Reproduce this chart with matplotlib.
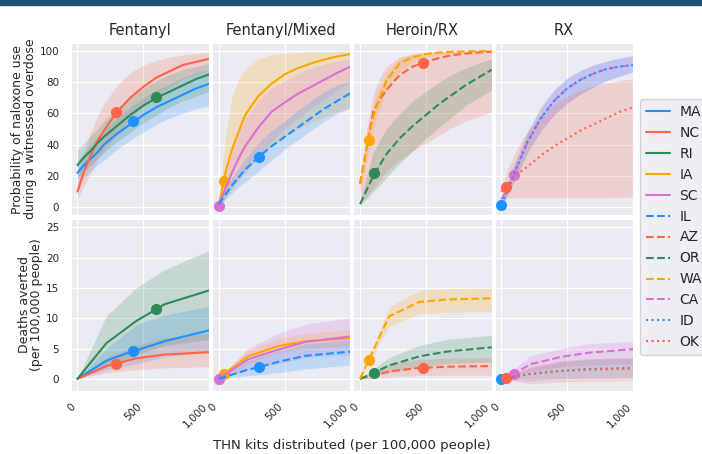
import numpy as np
import matplotlib.pyplot as plt
import seaborn as sns
from matplotlib.lines import Line2D
from matplotlib.patches import Rectangle
from matplotlib.ticker import FuncFormatter

sns.set_style("darkgrid")
plt.rcParams['font.family'] = ['DejaVu Sans']

# ---- data ----
PANELS = ["Fentanyl", "Fentanyl/Mixed", "Heroin/RX", "RX"]
STATES = ["MA", "NC", "RI", "IA", "SC", "IL", "AZ", "OR", "WA", "CA", "ID", "OK"]
PANEL_OF = {"MA": 0, "NC": 0, "RI": 0, "IA": 1, "SC": 1, "IL": 1,
            "AZ": 2, "OR": 2, "WA": 2, "CA": 3, "ID": 3, "OK": 3}
COLORS = {"MA": "dodgerblue", "NC": "tomato", "RI": "seagreen", "IA": "orange", "SC": "orchid",
          "IL": "dodgerblue", "AZ": "tomato", "OR": "seagreen", "WA": "orange", "CA": "orchid",
          "ID": "dodgerblue", "OK": "tomato"}
STYLES = {"MA": "-", "NC": "-", "RI": "-", "IA": "-", "SC": "-",
          "IL": "--", "AZ": "--", "OR": "--", "WA": "--", "CA": "--",
          "ID": ":", "OK": ":"}

# top row: probability of naloxone use
TOP_X = [0, 50, 100, 150, 200, 300, 400, 500, 600, 700, 800, 900, 1000]
prob_mid = {
    "MA": [22, 27, 31, 35, 40, 47, 53, 59, 64, 68, 72, 76, 79],
    "NC": [10, 23, 33, 42, 49, 61, 70, 77, 83, 87, 91, 93, 95],
    "RI": [27, 32, 36, 41, 45, 52, 59, 65, 70, 74, 78, 82, 85],
    "IA": [1, 22, 37, 48, 59, 71, 79, 85, 89, 92, 94.5, 96.5, 98],
    "SC": [1, 12, 22, 31, 39, 51, 61, 67, 72.5, 77, 81.5, 86, 90],
    "IL": [2, 8, 14, 19, 24, 32, 39, 45, 51, 57, 63, 68, 73],
    "AZ": [15, 38, 61, 69, 75, 84.5, 90, 93, 95.5, 97.3, 98.3, 99, 99.5],
    "OR": [2, 11, 20, 27, 34, 44, 52, 59, 66, 72, 78, 83, 88],
    "WA": [15, 38, 58, 70, 81, 92, 96, 98, 99, 99.5, 99.7, 99.9, 100],
    "CA": [5, 12, 22, 32, 42, 57, 68, 76, 81.5, 85.5, 88.5, 90, 91],
    "ID": [2, 11, 22, 32, 42, 57, 68, 76, 81.5, 85.5, 88.5, 90, 91],
    "OK": [10, 15, 19, 23, 26, 33, 39, 44, 49, 53, 57, 61, 64],
}
prob_lo = {
    "MA": [15, 19, 23, 27, 30, 37, 43, 48, 53, 57, 60, 63, 65],
    "NC": [5, 14, 22, 30, 36, 47, 57, 65, 72, 77, 82, 85, 88],
    "RI": [19, 23, 27, 31, 35, 42, 48, 54, 59, 64, 68, 71, 74],
    "IA": [0, 6, 12, 17, 22, 31, 39, 45, 50, 54, 58, 61, 63],
    "SC": [0, 6, 12, 18, 24, 33, 42, 50, 57, 63, 69, 75, 80],
    "IL": [0, 5, 9, 13, 16, 23, 30, 37, 43, 49, 55, 60, 64],
    "AZ": [2, 7, 12, 17, 23, 30, 36, 41, 46, 51, 55, 58, 61],
    "OR": [1, 5, 10, 14, 19, 28, 36, 44, 51, 58, 65, 70, 75],
    "WA": [10, 30, 50, 63, 74, 87, 93, 96, 97.5, 98.5, 99, 99.3, 99.5],
    "CA": [0, 8, 17, 26, 35, 49, 59, 66.5, 72.5, 77, 81, 84, 86.5],
    "ID": [0, 8, 17, 26, 35, 49, 59, 66.5, 72.5, 77, 81, 84, 86.5],
    "OK": [6, 6, 6, 6, 6, 6, 6, 6, 6.1, 6.2, 6.2, 6.3, 6.4],
}
prob_hi = {
    "MA": [30, 35, 40, 45, 49, 57, 64, 70, 75, 79, 83, 86, 88],
    "NC": [18, 35, 48, 58, 66, 78, 86, 91, 94, 96, 97.5, 98.5, 99],
    "RI": [37, 41, 46, 50, 55, 63, 70, 76, 81, 85, 88, 90, 92],
    "IA": [2, 45, 70, 82, 88, 95, 97.5, 98.5, 99, 99.5, 99.7, 99.9, 100],
    "SC": [2, 20, 35, 47, 57, 68, 76, 81, 85.5, 89, 91.5, 93.5, 95],
    "IL": [4, 12, 19, 25, 31, 41, 49, 55, 62, 68, 74, 78, 81],
    "AZ": [15, 50, 72, 83, 90, 96, 98, 99, 99.5, 99.7, 99.8, 99.9, 100],
    "OR": [4, 20, 35, 43, 50, 60, 68, 74, 80, 85, 89, 92, 95],
    "WA": [18, 45, 65, 77, 86, 95, 98, 99.3, 99.7, 99.8, 99.9, 100, 100],
    "CA": [4, 15, 28, 38, 48, 64, 75, 82.5, 87.5, 91, 93.5, 95.5, 97],
    "ID": [4, 15, 28, 38, 48, 64, 75, 82.5, 87.5, 91, 93.5, 95.5, 97],
    "OK": [12, 25, 34, 42, 49, 58, 66, 71, 75, 77.5, 79.5, 81, 82],
}
# current kit distribution (x) and probability at that level
current_kits = {"MA": 423, "NC": 291, "RI": 600, "IA": 38, "SC": 0, "IL": 304,
                "AZ": 475, "OR": 108, "WA": 66, "CA": 96, "ID": 0, "OK": 33}
current_prob = {"MA": 55, "NC": 61, "RI": 70.5, "IA": 16.6, "SC": 1, "IL": 32,
                "AZ": 92.5, "OR": 22, "WA": 43, "CA": 20.5, "ID": 1.7, "OK": 12.8}

# bottom row: deaths averted
BOT_X = [0, 220, 450, 660, 1000]
deaths_mid = {
    "MA": [0, 3.0, 4.7, 6.2, 8.0], "NC": [0, 2.1, 3.4, 4.0, 4.4], "RI": [0, 5.9, 9.6, 12.3, 14.6],
    "IA": [0, 3.7, 5.4, 6.2, 6.7], "SC": [0, 3.2, 4.8, 6.1, 7.0], "IL": [0, 1.5, 2.8, 3.8, 4.5],
    "AZ": [0, 1.2, 1.8, 2.0, 2.1], "OR": [0, 2.2, 3.7, 4.5, 5.2], "WA": [0, 10.3, 12.7, 13.1, 13.3],
    "CA": [0, 2.4, 3.6, 4.3, 4.9], "ID": [0, 0.8, 1.3, 1.6, 1.8], "OK": [0, 0.8, 1.3, 1.5, 1.7],
}
deaths_lo = {
    "MA": [0, 1.5, 2.5, 3.6, 4.5], "NC": [0, 1.0, 1.5, 1.8, 2.0], "RI": [0, 2.0, 4.0, 5.5, 6.5],
    "IA": [0, 2.5, 4.3, 5.0, 5.5], "SC": [0, 1.5, 2.5, 3.5, 4.0], "IL": [0, 0.5, 1.0, 1.6, 2.3],
    "AZ": [0, 0.3, 0.5, 0.6, 0.6], "OR": [0, 1.0, 2.0, 2.5, 2.8], "WA": [0, 8.6, 10.7, 11.0, 11.1],
    "CA": [0, 1.2, 2.0, 2.3, 2.5], "ID": [0, -0.3, 0.0, 0.1, 0.2], "OK": [0, -0.8, -0.5, -0.4, -0.3],
}
deaths_hi = {
    "MA": [0, 5.0, 9.0, 10.5, 12.0], "NC": [0, 3.5, 5.5, 6.8, 7.5], "RI": [0, 10.4, 15.1, 18.0, 21.2],
    "IA": [0, 4.7, 6.6, 7.5, 8.1], "SC": [0, 5.0, 7.5, 9.0, 10.1], "IL": [0, 3.0, 4.6, 5.8, 6.5],
    "AZ": [0, 2.5, 3.2, 3.4, 3.5], "OR": [0, 3.5, 5.5, 6.5, 7.2], "WA": [0, 11.9, 14.6, 14.9, 15.0],
    "CA": [0, 3.8, 5.0, 5.8, 6.2], "ID": [0, 1.8, 2.8, 3.2, 3.4], "OK": [0, 2.0, 3.0, 3.3, 3.5],
}
current_deaths = {"MA": 4.6, "NC": 2.5, "RI": 11.5, "IA": 0.8, "SC": 0, "IL": 1.9,
                  "AZ": 1.8, "OR": 1.0, "WA": 3.1, "CA": 0.8, "ID": 0, "OK": 0.2}

# ---- figure ----
fig, axes = plt.subplots(2, 4, figsize=(7.02, 4.54), dpi=100, sharex=True, sharey='row')
fig.subplots_adjust(left=0.101, right=0.9017, top=0.905, bottom=0.139, wspace=0.022, hspace=0.023)
fig.patches.append(Rectangle((0, 1 - 5 / 454), 1, 5 / 454, transform=fig.transFigure,
                             color="#1f5076", zorder=10))

for s in STATES:
    c, ls, col = COLORS[s], STYLES[s], PANEL_OF[s]
    ax = axes[0, col]
    ax.fill_between(TOP_X, prob_lo[s], prob_hi[s], color=c, alpha=0.2, lw=0)
    ax.plot(TOP_X, prob_mid[s], color=c, ls=ls, lw=1.5)
    ax.plot(current_kits[s], current_prob[s], 'o', color=c, ms=7)

    ax = axes[1, col]
    pts = sorted(set(zip(BOT_X, deaths_mid[s])) | {(current_kits[s], current_deaths[s])})
    ax.fill_between(BOT_X, deaths_lo[s], deaths_hi[s], color=c, alpha=0.2, lw=0)
    ax.plot([p[0] for p in pts], [p[1] for p in pts], color=c, ls=ls, lw=1.5)
    ax.plot(current_kits[s], current_deaths[s], 'o', color=c, ms=7)

for i, name in enumerate(PANELS):
    axes[0, i].set_title(name, fontsize=10.5, pad=6)
    for ax in axes[:, i]:
        ax.set_xlim(-50, 1000)
        ax.set_xticks([0, 500, 1000])
        ax.tick_params(axis='y', labelsize=7.5, pad=5)
        ax.tick_params(axis='x', labelsize=7.5, pad=4)
    for lab in axes[1, i].get_xticklabels():
        lab.set_rotation(45)
        lab.set_ha('right')

axes[1, 0].xaxis.set_major_formatter(FuncFormatter(lambda v, p: f"{v:,.0f}"))
axes[0, 0].set_ylim(-5, 105)
axes[0, 0].set_yticks([0, 20, 40, 60, 80, 100])
axes[1, 0].set_ylim(-2, 26.4)
axes[1, 0].set_yticks([0, 5, 10, 15, 20, 25])
axes[0, 0].set_ylabel("Probability of naloxone use\nduring a witnessed overdose", fontsize=9,
                      linespacing=0.95, labelpad=2)
axes[1, 0].set_ylabel("Deaths averted\n(per 100,000 people)", fontsize=9,
                      linespacing=0.95, labelpad=2)
fig.text(0.5017, 0.012, "THN kits distributed (per 100,000 people)", ha='center', fontsize=9.5)

handles = [Line2D([], [], color=COLORS[s], ls=STYLES[s], lw=1.5) for s in STATES]
fig.legend(handles, STATES, loc='center left', bbox_to_anchor=(0.9117, 0.5), fontsize=10,
           labelspacing=0.5, handlelength=1.75, handletextpad=0.7, borderaxespad=0,
           frameon=True)

plt.savefig("out.png")
